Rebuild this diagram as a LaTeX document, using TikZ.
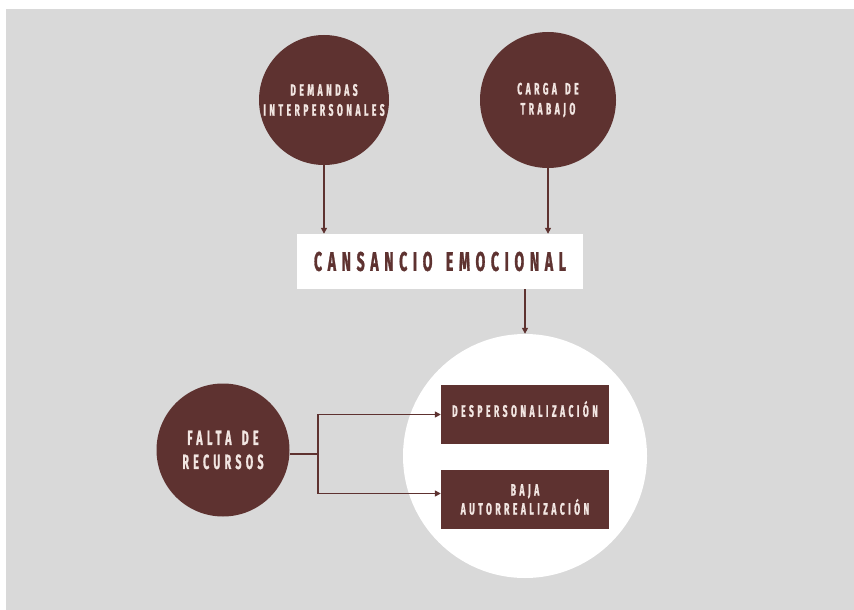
\documentclass[tikz,border=0pt]{standalone}
\usepackage{fontspec}
\usetikzlibrary{arrows.meta}
\newfontfamily\bfont{Fira Sans}[FakeStretch=0.52,LetterSpace=21,WordSpace=1.5,FakeBold=1]
\definecolor{brn}{HTML}{5E3230}
\definecolor{lite}{HTML}{F2E6E2}
\definecolor{bg}{HTML}{D9D9D9}
\tikzset{
  circ/.style={circle,fill=brn,inner sep=0pt,text=lite,align=center,
    font=\bfont\bfseries\fontsize{16.5}{20}\selectfont},
  dbox/.style={rectangle,fill=brn,minimum width=168pt,minimum height=59pt,inner sep=0pt,
    text=lite,align=center,font=\bfont\bfseries\fontsize{16.5}{19}\selectfont},
  arr/.style={draw=brn,line width=1.4pt,-{Triangle[length=6pt,width=6pt]}},
  ln/.style={draw=brn,line width=1.4pt}
}
\begin{document}
\begin{tikzpicture}[x=1pt,y=-1pt]
\useasboundingbox (0,0) rectangle (854,610);
\fill[bg] (6,9) rectangle (854,610);
\node[circ,minimum size=130pt] (dem) at (324,100) {DEMANDAS\\INTERPERSONALES};
\node[circ,minimum size=136pt] (car) at (548,100) {CARGA DE\\TRABAJO};
\node[rectangle,fill=white,minimum width=286pt,minimum height=55pt,inner sep=0pt,
  text=brn,font=\bfont\bfseries\fontsize{27}{28}\selectfont] (ce) at (440,261.5) {CANSANCIO EMOCIONAL};
\node[circle,fill=white,minimum size=244pt,inner sep=0pt] (wc) at (525,456) {};
\node[dbox] (desp) at (525,414.5) {};
\node[text=lite,font=\bfont\bfseries\fontsize{16.5}{19}\selectfont] (desptxt) at (525,409) {DESPERSONALIZACIÓN};
\node[dbox] (baja) at (525,499.5) {BAJA\\AUTORREALIZACIÓN};
\node[circ,minimum size=133pt,font=\bfont\bfseries\fontsize{20.5}{24}\selectfont] (fal) at (223,450) {FALTA DE\\RECURSOS};
\coordinate (j) at (318,454);
\draw[arr] (dem.south) -- (dem.south |- ce.north);
\draw[arr] (car.south) -- (car.south |- ce.north);
\draw[arr] (wc.north |- ce.south) -- (wc.north);
\draw[ln] (fal.east |- j) -- (j);
\draw[arr] (j) |- (desp.west);
\draw[arr] (j) |- ([yshift=6pt]baja.west);
\end{tikzpicture}
\end{document}
